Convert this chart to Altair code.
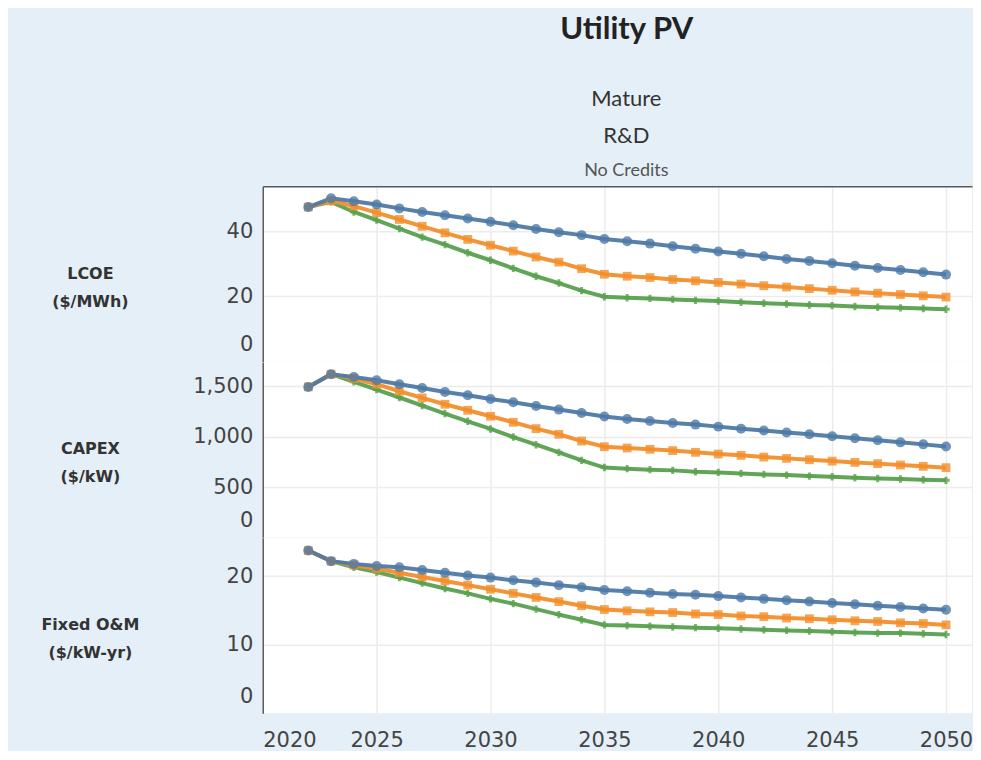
import altair as alt
import pandas as pd

years = list(range(2022, 2051))
scenarios = ["Advanced", "Moderate", "Conservative"]  # drawn green, orange, blue (blue on top)
scenario_colors = ["#59a14f", "#f28e2b", "#4e79a7"]
scenario_shapes = ["cross", "square", "circle"]

lcoe_conservative = [47.4, 50.1, 49.2, 48.2, 47.0, 45.9, 44.9, 43.9, 42.9, 41.8, 40.7, 39.7, 38.8, 37.6,
                     36.9, 36.2, 35.4, 34.6, 33.8, 33.1, 32.3, 31.5, 30.9, 30.2, 29.4, 28.7, 28.1, 27.4, 26.7]
lcoe_moderate = [47.4, 49.3, 47.7, 45.7, 43.6, 41.5, 39.5, 37.5, 35.7, 33.9, 32.1, 30.5, 28.5, 26.8,
                 26.2, 25.8, 25.2, 24.8, 24.3, 23.8, 23.3, 22.9, 22.4, 21.9, 21.4, 21.0, 20.6, 20.2, 19.8]
lcoe_advanced = [47.4, 49.0, 45.9, 43.4, 40.8, 38.2, 35.9, 33.4, 31.1, 28.6, 26.2, 24.1, 21.8, 19.9,
                 19.6, 19.4, 19.1, 18.8, 18.6, 18.2, 17.9, 17.7, 17.4, 17.2, 16.9, 16.7, 16.5, 16.3, 16.1]

capex_conservative = [1494, 1620, 1593, 1560, 1521, 1484, 1444, 1411, 1375, 1342, 1305, 1269, 1236, 1200,
                      1176, 1156, 1136, 1120, 1100, 1080, 1061, 1041, 1024, 1004, 984, 964, 944, 924, 902]
capex_moderate = [1494, 1620, 1577, 1521, 1451, 1385, 1322, 1262, 1203, 1143, 1080, 1024, 957, 901,
                  888, 875, 862, 845, 828, 815, 798, 785, 772, 758, 745, 733, 719, 706, 693]
capex_advanced = [1494, 1620, 1544, 1468, 1389, 1309, 1230, 1153, 1077, 997, 921, 845, 765, 694,
                  683, 673, 666, 653, 646, 636, 626, 619, 609, 603, 593, 586, 580, 573, 567]

om_conservative = [23.75, 22.2, 21.8, 21.5, 21.3, 20.9, 20.5, 20.1, 19.8, 19.4, 19.1, 18.7, 18.4, 18.0,
                   17.8, 17.6, 17.4, 17.3, 17.1, 16.9, 16.7, 16.5, 16.3, 16.1, 15.9, 15.7, 15.5, 15.3, 15.1]
om_moderate = [23.75, 22.2, 21.6, 21.1, 20.5, 19.9, 19.3, 18.7, 18.1, 17.5, 16.9, 16.3, 15.7, 15.15,
               14.95, 14.8, 14.7, 14.5, 14.4, 14.2, 14.1, 13.9, 13.8, 13.65, 13.5, 13.4, 13.2, 13.1, 12.9]
om_advanced = [23.75, 22.2, 21.3, 20.6, 19.8, 19.0, 18.2, 17.5, 16.7, 16.0, 15.2, 14.4, 13.65, 12.9,
               12.8, 12.7, 12.6, 12.5, 12.4, 12.3, 12.2, 12.1, 12.0, 11.9, 11.8, 11.7, 11.7, 11.6, 11.5]

series = {
    "LCOE": {"Advanced": lcoe_advanced, "Moderate": lcoe_moderate, "Conservative": lcoe_conservative},
    "CAPEX": {"Advanced": capex_advanced, "Moderate": capex_moderate, "Conservative": capex_conservative},
    "OM": {"Advanced": om_advanced, "Moderate": om_moderate, "Conservative": om_conservative},
}

rows = []
for metric, d in series.items():
    for sc in scenarios:
        for y, v in zip(years, d[sc]):
            rows.append({"metric": metric, "scenario": sc, "year": y, "value": v})
df = pd.DataFrame(rows)

x_ticks = [2020, 2025, 2030, 2035, 2040, 2045, 2050]
X_DOMAIN = [2020, 2051.14]
W = 710
H = 175.67
LABEL_FONT = "DejaVu Sans"
TEXT = "#333333"
GRID = "#ececec"
BORDER = "#5a5a5a"

color_scale = alt.Scale(domain=scenarios, range=scenario_colors)
shape_scale = alt.Scale(domain=scenarios, range=scenario_shapes)
size_scale = alt.Scale(domain=scenarios, range=[55, 100, 90])


def x_scale():
    return alt.Scale(domain=X_DOMAIN, nice=False, zero=False)


def panel(metric, title_lines, y_domain, y_values, bottom, top_border, header=None):
    src = alt.Chart(df).transform_filter(alt.datum.metric == metric)
    y_axis = alt.Axis(
        values=y_values, format=",d", title=title_lines,
        titleAngle=0, titleAlign="center", titleBaseline="middle",
        titleX=-173, titleY=87, titleFont=LABEL_FONT, titleFontSize=16,
        titleFontWeight="bold", titleColor=TEXT, titleLineHeight=28,
        labelFont=LABEL_FONT, labelFontSize=21, labelColor="#444444", labelPadding=10,
        labelFlush=True, labelFlushOffset=-7,
        ticks=False, domain=True, domainColor=BORDER, domainWidth=1.5,
        grid=True, gridColor=GRID, gridWidth=1.5,
        gridOpacity={"condition": {"test": "datum.value === 0", "value": 0}, "value": 1},
    )
    y = alt.Y("value:Q", scale=alt.Scale(domain=y_domain, nice=False, zero=True), axis=y_axis)
    if bottom:
        x_axis = alt.Axis(values=x_ticks, format="d", title=None, labelFont=LABEL_FONT,
                          labelFontSize=21, labelColor="#444444", labelPadding=16,
                          labelFlush=True, ticks=False, domain=False,
                          grid=True, gridColor=GRID, gridWidth=1.5)
    else:
        x_axis = alt.Axis(values=x_ticks, labels=False, ticks=False, domain=False, title=None,
                          grid=True, gridColor=GRID, gridWidth=1.5)
    x = alt.X("year:Q", scale=x_scale(), axis=x_axis)

    if top_border:
        x_line = alt.X("year:Q", scale=x_scale(),
                       axis=alt.Axis(orient="top", labels=False, ticks=False, grid=False, title=None,
                                     domain=True, domainColor=BORDER, domainWidth=1.5))
    else:
        x_line = x

    lines = src.mark_line(strokeWidth=4, opacity=0.95).encode(
        x=x_line, y=y,
        color=alt.Color("scenario:N", scale=color_scale, legend=None),
        detail="scenario:N",
    )
    points = src.mark_point(filled=True, opacity=0.8).encode(
        x=x, y=y,
        color=alt.Color("scenario:N", scale=color_scale, legend=None),
        shape=alt.Shape("scenario:N", scale=shape_scale, legend=None),
        size=alt.Size("scenario:N", scale=size_scale, legend=None),
    )
    layer = alt.layer(lines, points)
    if top_border:
        layer = layer.resolve_axis(x="independent")
    props = dict(width=W, height=H)
    if header is not None:
        props["title"] = header
    return layer.properties(**props)


header = alt.TitleParams(
    ["Mature", "R&D"], subtitle="No Credits", anchor="middle", frame="group",
    font="Lato", fontSize=22, fontWeight="normal", color=TEXT, lineHeight=37,
    subtitleFont="Lato", subtitleFontSize=18, subtitleColor="#555555", subtitlePadding=14,
    offset=5, dx=9,
)

p1 = panel("LCOE", ["LCOE", "($/MWh)"], [0, 53.8], [0, 20, 40], False, True, header)
p2 = panel("CAPEX", ["CAPEX", "($/kW)"], [0, 1741], [0, 500, 1000, 1500], False, False)
p3 = panel("OM", ["Fixed O&M", "($/kW-yr)"], [0, 25.6], [0, 10, 20], True, False)

chart = alt.vconcat(p1, p2, p3, spacing=0).properties(
    title=alt.TitleParams("Utility PV", anchor="middle", font="Lato", fontSize=31,
                          fontWeight="bold", color="#222222", offset=42, dx=120),
).configure(
    background="#e5eff7",
    padding={"left": 32, "top": 6, "right": 0, "bottom": 0},
).configure_view(fill="white", stroke=None)

chart.save("out.html", embed_options={"renderer": "svg", "actions": False})
